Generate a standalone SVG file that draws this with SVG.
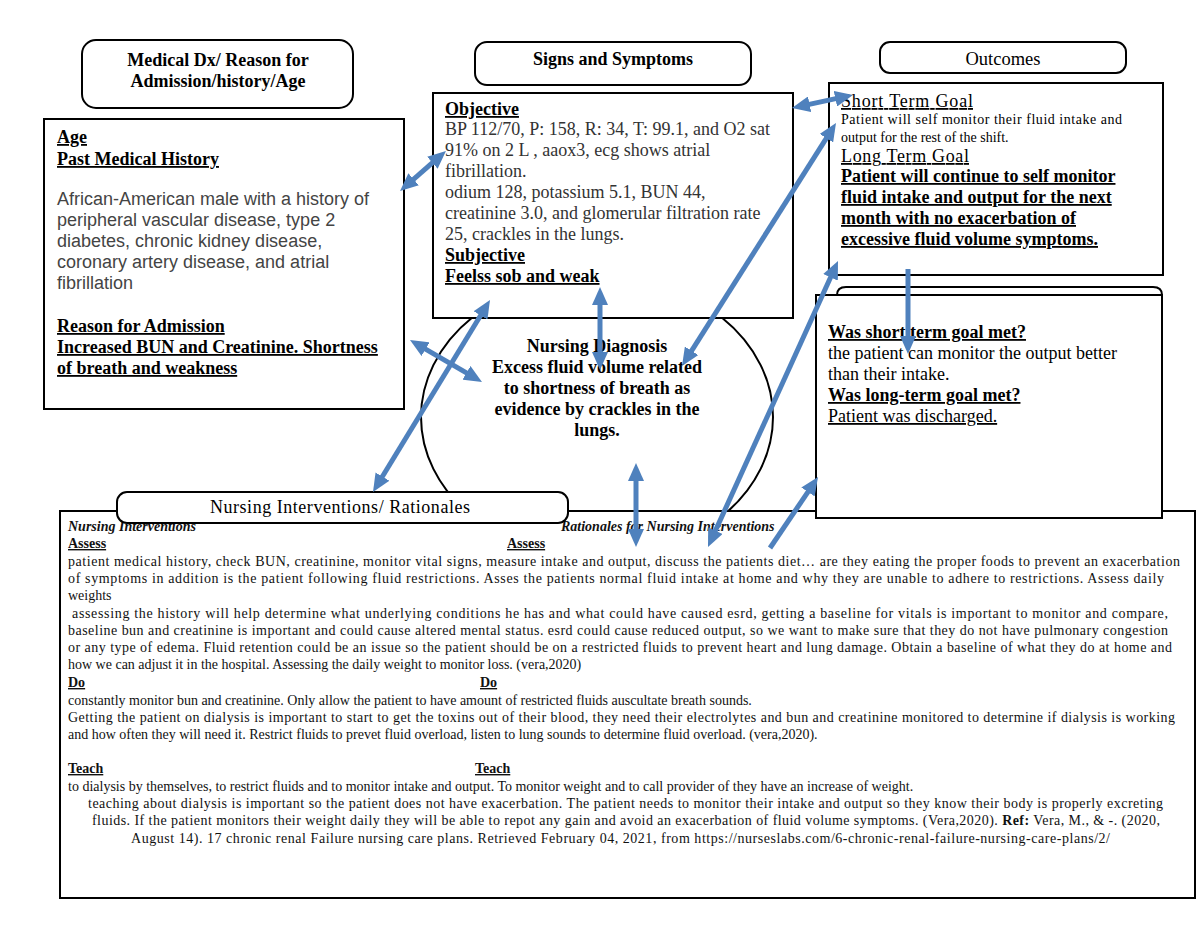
<svg xmlns="http://www.w3.org/2000/svg" width="1200" height="927" viewBox="0 0 1200 927">
<style>
  .box{fill:#fff;stroke:#000;stroke-width:2}
  .ser{font-family:"Liberation Serif","Times New Roman",serif}
  .sans{font-family:"Liberation Sans",Arial,sans-serif}
  .h{font-family:"Liberation Serif","Times New Roman",serif;font-size:18px;font-weight:bold;fill:#000}
  .hu{font-family:"Liberation Serif","Times New Roman",serif;font-size:18px;font-weight:bold;fill:#000;text-decoration:underline}
  .b18{font-family:"Liberation Serif","Times New Roman",serif;font-size:18px;fill:#333}
  .s18{font-family:"Liberation Sans",Arial,sans-serif;font-size:18px;fill:#444}
  .t14{font-family:"Liberation Serif","Times New Roman",serif;font-size:14px;fill:#111}
  .t14b{font-family:"Liberation Serif","Times New Roman",serif;font-size:14px;fill:#111;font-weight:bold;text-decoration:underline}
  .mid{text-anchor:middle}
  .arr{stroke:#4F81BD;stroke-width:5;fill:none}
</style>
<defs>
  <marker id="ah" viewBox="0 0 18 16" refX="4" refY="8" markerWidth="18" markerHeight="16" markerUnits="userSpaceOnUse" orient="auto-start-reverse">
    <path d="M0,0 L18,8 L0,16 z" fill="#4F81BD"/>
  </marker>
</defs>
<rect x="0" y="0" width="1200" height="927" fill="#fff"/>

<g id="diagnosis">
  <ellipse cx="597" cy="417" rx="176" ry="141" fill="#fff" stroke="#000" stroke-width="2"/>
  <text class="h mid" x="597" y="352">Nursing Diagnosis</text>
  <text class="h mid" x="597" y="373">Excess fluid volume related</text>
  <text class="h mid" x="597" y="394">to shortness of breath as</text>
  <text class="h mid" x="597" y="415">evidence by crackles in the</text>
  <text class="h mid" x="597" y="436">lungs.</text>
</g>

<g id="medical-header">
  <rect class="box" x="82" y="40" width="271" height="68" rx="14"/>
  <text class="h mid" x="218" y="66">Medical Dx/ Reason for</text>
  <text class="h mid" x="218" y="87">Admission/history/Age</text>
</g>

<g id="medical-box">
  <rect class="box" x="44" y="119" width="360" height="290"/>
  <text class="hu" x="57" y="143">Age</text>
  <text class="hu" x="57" y="165">Past Medical History</text>
  <text class="s18" x="57" y="205">African-American male with a history of</text>
  <text class="s18" x="57" y="226">peripheral vascular disease, type 2</text>
  <text class="s18" x="57" y="247">diabetes, chronic kidney disease,</text>
  <text class="s18" x="57" y="268">coronary artery disease, and atrial</text>
  <text class="s18" x="57" y="289">fibrillation</text>
  <text class="hu" x="57" y="332">Reason for Admission</text>
  <text class="hu" x="57" y="353">Increased BUN and Creatinine. Shortness</text>
  <text class="hu" x="57" y="374">of breath and weakness</text>
</g>

<g id="signs-header">
  <rect class="box" x="475" y="42" width="276" height="43" rx="12"/>
  <text class="h mid" x="613" y="65">Signs and Symptoms</text>
</g>

<g id="signs-box">
  <rect class="box" x="433" y="93" width="360" height="225"/>
  <text class="hu" x="445" y="115">Objective</text>
  <text class="b18" x="445" y="135">BP 112/70, P: 158, R: 34, T: 99.1, and O2 sat</text>
  <text class="b18" x="445" y="156">91% on 2 L , aaox3, ecg shows atrial</text>
  <text class="b18" x="445" y="177">fibrillation.</text>
  <text class="b18" x="445" y="198">odium 128, potassium 5.1, BUN 44,</text>
  <text class="b18" x="445" y="219">creatinine 3.0, and glomerular filtration rate</text>
  <text class="b18" x="445" y="240">25, crackles in the lungs.</text>
  <text class="hu" x="445" y="261">Subjective</text>
  <text class="hu" x="445" y="282">Feelss sob and weak</text>
</g>

<g id="outcomes-header">
  <rect class="box" x="880" y="42" width="246" height="31" rx="10"/>
  <text class="ser mid" x="1003" y="65" font-size="18.5" fill="#000">Outcomes</text>
</g>

<g id="outcomes-box">
  <rect class="box" x="829" y="83" width="334" height="192"/>
  <text class="ser" x="841" y="107" font-size="18" fill="#000" text-decoration="underline" textLength="132">Short Term Goal</text>
  <text class="ser" x="841" y="124" font-size="14" fill="#000" textLength="281">Patient will  self monitor their fluid intake and</text>
  <text class="ser" x="841" y="142" font-size="14" fill="#000">output for the rest of the shift.</text>
  <text class="ser" x="841" y="162" font-size="18" fill="#000" text-decoration="underline" textLength="128">Long Term Goal</text>
  <text class="hu" x="841" y="182">Patient will continue to self monitor</text>
  <text class="hu" x="841" y="203">fluid intake and output for the next</text>
  <text class="hu" x="841" y="224">month with no exacerbation of</text>
  <text class="hu" x="841" y="245">excessive fluid volume symptoms.</text>
</g>

<g id="interventions-box">
  <rect class="box" x="60" y="511" width="1135" height="387"/>
  <text class="ser" x="68" y="531" font-size="14" font-weight="bold" font-style="italic" fill="#111">Nursing Interventions</text>
  <text class="ser" x="561" y="531" font-size="14" font-weight="bold" font-style="italic" fill="#111">Rationales for Nursing Interventions</text>
  <text class="t14b" x="68" y="548">Assess</text>
  <text class="t14b" x="507" y="548">Assess</text>
  <text class="t14" x="68" y="566" textLength="1112">patient medical history, check BUN, creatinine, monitor vital signs, measure intake and output, discuss the patients diet… are they eating the proper foods to prevent an exacerbation</text>
  <text class="t14" x="68" y="583" textLength="1096">of symptoms in addition is the patient following fluid restrictions.  Asses the patients normal fluid intake at home and why they are unable to adhere to restrictions.  Assess daily</text>
  <text class="t14" x="68" y="600">weights</text>
  <text class="t14" x="72" y="618" textLength="1096">assessing the history will help determine what underlying conditions he has and what could have caused esrd, getting a baseline for vitals is important to monitor and compare,</text>
  <text class="t14" x="68" y="635" textLength="1100">baseline bun and creatinine is important and could cause altered mental status. esrd could cause reduced output, so we want to make sure that they do not have pulmonary congestion</text>
  <text class="t14" x="68" y="652" textLength="1104">or any type of edema. Fluid retention could be an issue so the patient should be on a restricted fluids to prevent heart and lung damage. Obtain a baseline of what they do at home and</text>
  <text class="t14" x="68" y="669">how we can adjust it in the hospital.  Assessing the daily weight to monitor loss.  (vera,2020)</text>
  <text class="t14b" x="68" y="687">Do</text>
  <text class="t14b" x="480" y="687">Do</text>
  <text class="t14" x="68" y="705">constantly monitor bun and creatinine. Only allow the patient to have amount of restricted fluids auscultate breath sounds.</text>
  <text class="t14" x="68" y="722" textLength="1107">Getting the patient on dialysis is important to start to get the toxins out of their blood, they need their electrolytes and bun and creatinine monitored to determine if dialysis is working</text>
  <text class="t14" x="68" y="739">and how often they will need it. Restrict fluids to prevet fluid overload, listen to lung sounds to determine fluid overload.  (vera,2020).</text>
  <text class="t14b" x="68" y="773">Teach</text>
  <text class="t14b" x="475" y="773">Teach</text>
  <text class="t14" x="68" y="791">to dialysis by themselves, to restrict fluids and to monitor intake and output. To monitor weight and to call provider of they have an increase of weight.</text>
  <text class="t14" x="88" y="808" textLength="1075">teaching about dialysis is important  so the patient does not have exacerbation. The patient needs to monitor their intake and output so they know their body is properly excreting</text>
  <text class="t14" x="92" y="825" textLength="1068">fluids. If the patient monitors their weight daily they will be able to repot any gain and avoid an exacerbation of fluid volume symptoms. (Vera,2020).  <tspan font-weight="bold">Ref:</tspan> Vera, M., &amp; -. (2020,</text>
  <text class="t14" x="131" y="843" textLength="979">August 14). 17 chronic renal Failure nursing care plans. Retrieved February 04, 2021, from https://nurseslabs.com/6-chronic-renal-failure-nursing-care-plans/2/</text>
</g>

<g id="interventions-header">
  <rect class="box" x="117" y="492" width="451" height="31" rx="10"/>
  <text class="ser mid" x="340" y="513" font-size="18" fill="#000" textLength="260">Nursing Interventions/ Rationales</text>
</g>

<g id="evaluation-box">
  <path d="M837,295 Q837,287 846,287 L1153,287 Q1162,287 1162,295" fill="#fff" stroke="#000" stroke-width="2"/>
  <rect class="box" x="816" y="295" width="346" height="223"/>
  <text class="hu" x="828" y="338">Was short term goal met?</text>
  <text class="ser" x="828" y="359" font-size="18" fill="#000">the patient can monitor the output better</text>
  <text class="ser" x="828" y="380" font-size="18" fill="#000">than their intake.</text>
  <text class="hu" x="828" y="401">Was long-term goal met?</text>
  <text class="ser" x="828" y="422" font-size="18" fill="#000" text-decoration="underline">Patient was discharged.</text>
</g>

<g id="connectors">
  <line class="arr" x1="410.6" y1="181.8" x2="435.4" y2="160.2" marker-start="url(#ah)" marker-end="url(#ah)"/>
  <line class="arr" x1="805.7" y1="105.1" x2="839.3" y2="97.9" marker-start="url(#ah)" marker-end="url(#ah)"/>
  <line class="arr" x1="689.5" y1="354.2" x2="828.5" y2="134.8" marker-start="url(#ah)" marker-end="url(#ah)"/>
  <line class="arr" x1="713.8" y1="534.3" x2="832.2" y2="273.7" marker-start="url(#ah)" marker-end="url(#ah)"/>
  <line class="arr" x1="770" y1="548" x2="810.2" y2="488.6" marker-end="url(#ah)"/>
  <line class="arr" x1="600" y1="301" x2="600" y2="356" marker-start="url(#ah)" marker-end="url(#ah)"/>
  <line class="arr" x1="636" y1="477" x2="636" y2="533" marker-start="url(#ah)" marker-end="url(#ah)"/>
  <line class="arr" x1="380.3" y1="480" x2="482.7" y2="312" marker-start="url(#ah)" marker-end="url(#ah)"/>
  <line class="arr" x1="422.1" y1="347.1" x2="469.9" y2="374.9" marker-start="url(#ah)" marker-end="url(#ah)"/>
  <line class="arr" x1="908" y1="269" x2="908" y2="340" marker-end="url(#ah)"/>
</g>
</svg>
